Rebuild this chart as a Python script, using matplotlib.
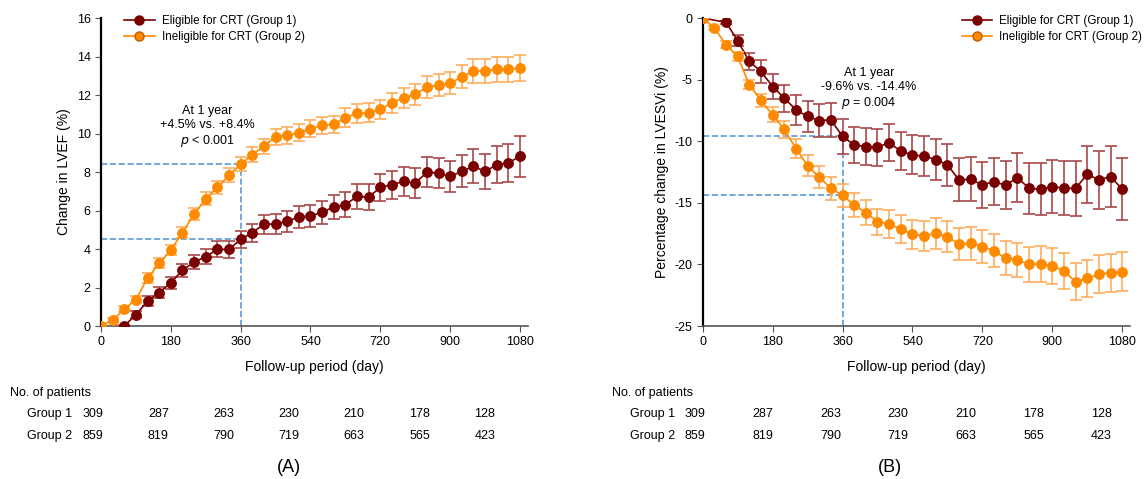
import matplotlib
matplotlib.use('Agg')
import matplotlib.pyplot as plt
from matplotlib.lines import Line2D

plt.rcParams['font.family'] = ['Liberation Sans', 'DejaVu Sans']
plt.rcParams['axes.unicode_minus'] = False

# follow-up days (every 30 days)
days = list(range(0, 1081, 30))

# Panel A: change in LVEF (%)
lvef_g2 = [0, 0.30, 0.87, 1.37, 2.49, 3.25, 3.95, 4.85, 5.81, 6.61, 7.20, 7.83, 8.40,
           8.90, 9.34, 9.83, 9.90, 10.05, 10.24, 10.42, 10.47, 10.83, 11.04, 11.08, 11.25,
           11.60, 11.86, 12.03, 12.42, 12.52, 12.61, 12.94, 13.25, 13.25, 13.34, 13.34, 13.39]
lvef_g2_err = [0, 0.10, 0.15, 0.18, 0.24, 0.26, 0.28, 0.30, 0.32, 0.34, 0.35, 0.36, 0.37,
               0.39, 0.40, 0.41, 0.42, 0.43, 0.44, 0.45, 0.45, 0.47, 0.48, 0.49, 0.50,
               0.52, 0.53, 0.54, 0.56, 0.57, 0.58, 0.60, 0.62, 0.63, 0.65, 0.66, 0.68]
days_a1 = days[2:]
lvef_g1 = [0, 0.59, 1.30, 1.74, 2.24, 2.90, 3.32, 3.60, 3.98, 3.98, 4.50,
           4.85, 5.29, 5.29, 5.43, 5.67, 5.72, 5.90, 6.19, 6.30, 6.73, 6.70, 7.20,
           7.34, 7.51, 7.43, 7.98, 7.95, 7.77, 8.03, 8.30, 8.03, 8.38, 8.47, 8.82]
lvef_g1_err = [0.05, 0.20, 0.26, 0.28, 0.31, 0.34, 0.37, 0.40, 0.42, 0.44, 0.45,
               0.47, 0.50, 0.52, 0.54, 0.56, 0.58, 0.60, 0.63, 0.65, 0.67, 0.69, 0.71,
               0.73, 0.75, 0.76, 0.78, 0.79, 0.80, 0.83, 0.88, 0.92, 0.96, 1.00, 1.06]

# Panel B: percentage change in LVESVi (%)
lvesvi_g2 = [0, -0.81, -2.17, -3.12, -5.42, -6.69, -7.86, -9.02, -10.60, -11.98, -12.93,
             -13.82, -14.40, -15.18, -15.80, -16.53, -16.72, -17.15, -17.55, -17.67, -17.48,
             -17.75, -18.35, -18.29, -18.56, -18.89, -19.51, -19.65, -19.97, -19.97, -20.11,
             -20.54, -21.41, -21.14, -20.79, -20.68, -20.60]
lvesvi_g2_err = [0, 0.20, 0.30, 0.33, 0.38, 0.50, 0.60, 0.70, 0.78, 0.85, 0.90,
                 0.93, 0.95, 1.00, 1.03, 1.06, 1.10, 1.14, 1.18, 1.22, 1.26,
                 1.28, 1.30, 1.32, 1.34, 1.36, 1.38, 1.40, 1.42, 1.44, 1.46,
                 1.48, 1.50, 1.52, 1.54, 1.56, 1.58]
days_b1 = [0] + days[2:]
lvesvi_g1 = [0, -0.35, -1.84, -3.52, -4.34, -5.56, -6.50, -7.45, -7.99, -8.32, -8.27, -9.60,
             -10.30, -10.43, -10.49, -10.11, -10.82, -11.11, -11.22, -11.49, -11.92, -13.14,
             -13.09, -13.55, -13.28, -13.58, -12.95, -13.82, -13.90, -13.69, -13.82, -13.82,
             -12.68, -13.14, -12.87, -13.90]
lvesvi_g1_err = [0, 0.10, 0.47, 0.70, 0.90, 1.00, 1.10, 1.20, 1.28, 1.35, 1.40, 1.42,
                 1.45, 1.48, 1.50, 1.52, 1.55, 1.58, 1.62, 1.65, 1.68, 1.75,
                 1.80, 1.85, 1.90, 1.95, 2.00, 2.05, 2.10, 2.15, 2.20, 2.25,
                 2.30, 2.38, 2.45, 2.50]

# number at risk
risk_days = [0, 180, 360, 540, 720, 900, 1080]
n_group1 = [309, 287, 263, 230, 210, 178, 128]
n_group2 = [859, 819, 790, 719, 663, 565, 423]

c1, c1e = '#7a0000', '#a84848'
c2, c2e = '#ff8a00', '#ffad5c'
dash_c = '#5b9bd5'

fig = plt.figure(figsize=(11.45, 4.79), dpi=100)
axA = fig.add_axes([0.0882, 0.3194, 0.3727, 0.643])
axB = fig.add_axes([0.6137, 0.3194, 0.3732, 0.643])

handles = [Line2D([], [], color=c1, marker='o', ms=6.5, lw=1.2),
           Line2D([], [], color=c2, marker='o', ms=6.5, lw=1.2, mec='#c05a00')]
labels = ['Eligible for CRT (Group 1)', 'Ineligible for CRT (Group 2)']


def draw(ax, x1, y1, e1, x2, y2, e2):
    ax.errorbar(x1, y1, yerr=e1, color=c1, ecolor=c1e, marker='o', ms=6.8, lw=1.2,
                elinewidth=1.2, capsize=4, capthick=1.2, zorder=3)
    ax.errorbar(x2, y2, yerr=e2, color=c2, ecolor=c2e, marker='o', ms=6.8, lw=1.2,
                elinewidth=1.2, capsize=4, capthick=1.2, zorder=4)
    ax.set_xlim(0, 1100)
    ax.set_xticks(risk_days)
    for s in ['top', 'right']:
        ax.spines[s].set_visible(False)
    ax.spines['left'].set_linewidth(1.6)
    ax.spines['left'].set_color('black')
    ax.spines['bottom'].set_color('#555555')
    ax.spines['bottom'].set_linewidth(1.2)
    ax.tick_params(direction='out', length=4, color='#555555', labelsize=9)
    ax.set_xlabel('Follow-up period (day)', fontsize=10, labelpad=8)


draw(axA, days_a1, lvef_g1, lvef_g1_err, days, lvef_g2, lvef_g2_err)
axA.set_ylim(0, 16)
axA.set_yticks(range(0, 17, 2))
axA.set_ylabel('Change in LVEF (%)', fontsize=10, labelpad=4)
axA.plot([0, 360], [8.4, 8.4], ls='--', color=dash_c, lw=1.2, zorder=1)
axA.plot([0, 360], [4.5, 4.5], ls='--', color=dash_c, lw=1.2, zorder=1)
axA.plot([360, 360], [0, 8.4], ls='--', color=dash_c, lw=1.2, zorder=1)
axA.text(275, 10.35, 'At 1 year\n+4.5% vs. +8.4%\n$p$ < 0.001', ha='center', va='center',
         fontsize=9, linespacing=1.2)
axA.legend(handles, labels, loc='upper left', bbox_to_anchor=(0.03, 1.045), frameon=False,
           fontsize=8.4, handlelength=2.6, handletextpad=0.6, labelspacing=0.35)

draw(axB, days_b1, lvesvi_g1, lvesvi_g1_err, days, lvesvi_g2, lvesvi_g2_err)
axB.set_ylim(-25, 0)
axB.set_yticks(range(-25, 1, 5))
axB.set_ylabel('Percentage change in LVESVi (%)', fontsize=10, labelpad=4)
axB.plot([0, 360], [-9.6, -9.6], ls='--', color=dash_c, lw=1.2, zorder=1)
axB.plot([0, 360], [-14.4, -14.4], ls='--', color=dash_c, lw=1.2, zorder=1)
axB.plot([360, 360], [-25, -9.6], ls='--', color=dash_c, lw=1.2, zorder=1)
axB.text(428, -5.8, 'At 1 year\n-9.6% vs. -14.4%\n$p$ = 0.004', ha='center', va='center',
         fontsize=9, linespacing=1.2)
axB.legend(handles, labels, loc='upper right', bbox_to_anchor=(1.052, 1.045), frameon=False,
           fontsize=8.4, handlelength=2.6, handletextpad=0.6, labelspacing=0.35)

# number-at-risk tables (pixel layout)
W, H = 1145.0, 479.0
for x0, step, lab_x, grp_x, tag, tag_x in [(93, 65.3, 10, 27, '(A)', 289),
                                            (695, 67.7, 612, 630, '(B)', 890)]:
    fig.text(lab_x / W, 1 - 393 / H, 'No. of patients', fontsize=9, va='center')
    fig.text(grp_x / W, 1 - 414 / H, 'Group 1', fontsize=9, va='center')
    fig.text(grp_x / W, 1 - 436 / H, 'Group 2', fontsize=9, va='center')
    for k in range(len(risk_days)):
        fig.text((x0 + step * k) / W, 1 - 414 / H, str(n_group1[k]), fontsize=9,
                 ha='center', va='center')
        fig.text((x0 + step * k) / W, 1 - 436 / H, str(n_group2[k]), fontsize=9,
                 ha='center', va='center')
    fig.text(tag_x / W, 1 - 467 / H, tag, fontsize=13, ha='center', va='center')

fig.savefig('out.png', dpi=100)
